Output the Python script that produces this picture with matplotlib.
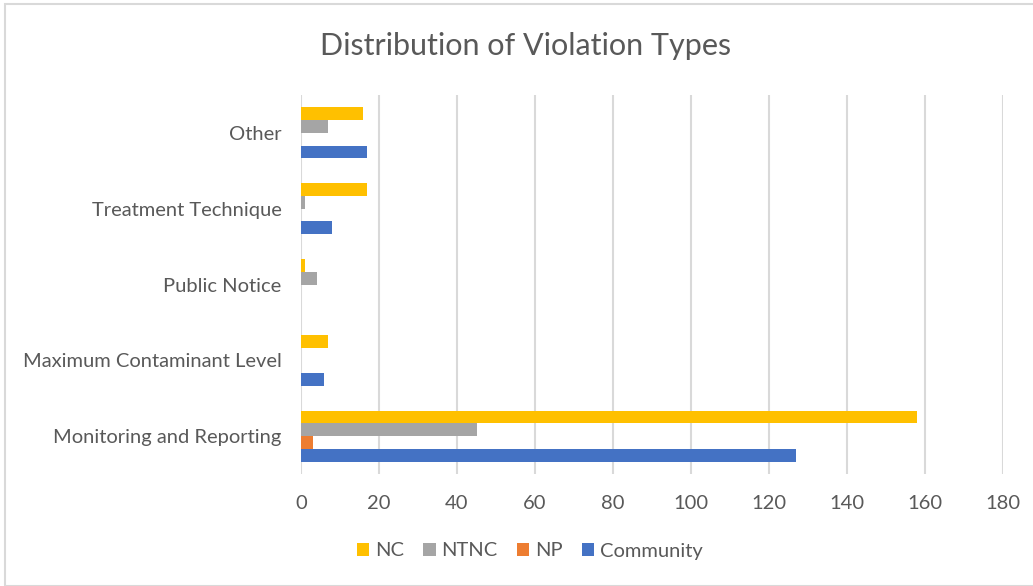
import matplotlib
matplotlib.use("Agg")
import matplotlib.pyplot as plt
from matplotlib.patches import Rectangle
import numpy as np

categories = ["Monitoring and Reporting", "Maximum Contaminant Level", "Public Notice",
              "Treatment Technique", "Other"]
series_names = ["NC", "NTNC", "NP", "Community"]
nc = [158, 7, 1, 17, 16]
ntnc = [45, 0, 4, 1, 7]
np_vals = [3, 0, 0, 0, 0]
community = [127, 6, 0, 8, 17]
colors = ["#FFC000", "#A5A5A5", "#ED7D31", "#4472C4"]
xticks = [0, 20, 40, 60, 80, 100, 120, 140, 160, 180]

plt.rcParams['font.family'] = ['Lato', 'DejaVu Sans']
txt = "#595959"
fs = 14.5

fig = plt.figure(figsize=(10.33, 5.86), dpi=100)
fig.patches.append(Rectangle((5/1033, 0), 1.2, 1 - 4/586, transform=fig.transFigure,
                             fill=False, edgecolor="#d9d9d9", linewidth=1.5))
ax = fig.add_axes([301/1033, 1 - 474/586, 702/1033, 379/586])

y = np.arange(len(categories))
h = 0.168
data = [nc, ntnc, np_vals, community]
offsets = [1.5 * h, 0.5 * h, -0.5 * h, -1.5 * h]
for vals, off, c, name in zip(data, offsets, colors, series_names):
    ax.barh(y + off, vals, height=h, color=c, label=name, zorder=3)

ax.set_xlim(0, 180)
ax.set_ylim(-0.5, 4.5)
ax.set_xticks(xticks)
ax.set_yticks(y)
ax.set_yticklabels(categories)
ax.grid(axis="x", color="#d9d9d9", linewidth=1.5, zorder=0)
for s in ax.spines.values():
    s.set_visible(False)
ax.tick_params(axis="both", length=0, colors=txt, labelsize=fs)
ax.tick_params(axis="x", pad=15)
ax.tick_params(axis="y", pad=14)

fig.text(0.509, 1 - 46/586, "Distribution of Violation Types", ha="center", va="center",
         fontsize=22, color=txt)

handles, labels = ax.get_legend_handles_labels()
fig.legend(handles, labels, loc="center", bbox_to_anchor=(0.513, 1 - 551/586), ncol=4,
           frameon=False, fontsize=fs, labelcolor=txt, handlelength=0.6, handleheight=0.6,
           handletextpad=0.3, columnspacing=0.95)

fig.savefig("out.png", dpi=100)
